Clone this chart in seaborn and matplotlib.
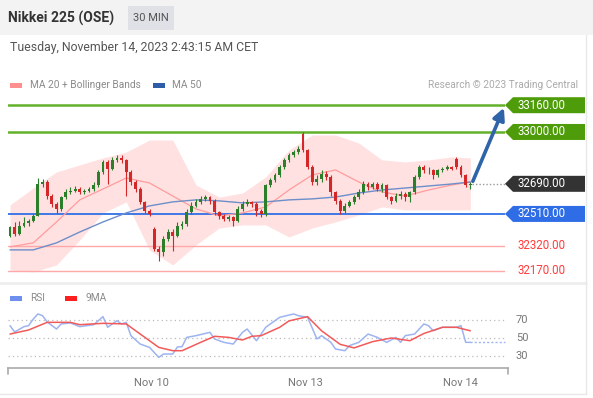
import matplotlib
matplotlib.use("Agg")
import matplotlib.pyplot as plt
from matplotlib.patches import Rectangle, Polygon
import seaborn as sns
import pandas as pd

# DATOS (velas de 30 min)

opens = [32380, 32430, 32390, 32440, 32455, 32470, 32500, 32690, 32700, 32620,
         32570, 32540, 32610, 32640, 32650, 32660, 32640, 32650, 32660, 32680,
         32760, 32820, 32780, 32830, 32845, 32830, 32760, 32700, 32660, 32580,
         32530, 32420, 32300, 32280, 32360, 32400, 32380, 32440, 32450, 32520,
         32560, 32580, 32600, 32610, 32590, 32520, 32500, 32480, 32490, 32470,
         32540, 32570, 32580, 32570, 32530, 32510, 32680, 32710, 32740, 32790,
         32830, 32860, 32880, 32985, 32890, 32790, 32700, 32720, 32750, 32730,
         32640, 32590, 32530, 32560, 32580, 32610, 32640, 32690, 32670, 32690,
         32660, 32680, 32610, 32590, 32620, 32630, 32610, 32640, 32730, 32790,
         32770, 32770, 32740, 32770, 32780, 32790, 32840, 32790, 32740, 32680]
closes = [32430, 32390, 32440, 32455, 32470, 32500, 32690, 32700, 32620, 32570,
          32540, 32610, 32640, 32650, 32660, 32640, 32650, 32660, 32680, 32760,
          32820, 32780, 32830, 32845, 32830, 32760, 32700, 32660, 32580, 32530,
          32510, 32300, 32280, 32360, 32400, 32380, 32440, 32450, 32520, 32560,
          32580, 32600, 32610, 32590, 32520, 32500, 32480, 32490, 32470, 32540,
          32570, 32580, 32570, 32530, 32510, 32680, 32710, 32740, 32790, 32830,
          32860, 32880, 32900, 32890, 32790, 32700, 32720, 32750, 32730, 32640,
          32590, 32530, 32560, 32580, 32610, 32640, 32690, 32670, 32690, 32660,
          32680, 32610, 32590, 32620, 32630, 32610, 32640, 32730, 32790, 32770,
          32770, 32740, 32770, 32780, 32790, 32780, 32790, 32740, 32680, 32690]
highs = [32440, 32460, 32470, 32490, 32480, 32510, 32725, 32720, 32710, 32630,
         32580, 32620, 32660, 32670, 32675, 32670, 32660, 32670, 32700, 32770,
         32830, 32830, 32850, 32865, 32860, 32840, 32770, 32710, 32670, 32590,
         32540, 32430, 32320, 32380, 32420, 32420, 32460, 32470, 32540, 32580,
         32600, 32615, 32625, 32620, 32600, 32530, 32510, 32505, 32500, 32555,
         32590, 32600, 32590, 32580, 32540, 32690, 32725, 32755, 32800, 32845,
         32875, 32895, 32915, 33000, 32900, 32800, 32740, 32770, 32765, 32740,
         32650, 32600, 32575, 32595, 32625, 32660, 32705, 32700, 32700, 32700,
         32695, 32690, 32620, 32635, 32645, 32640, 32650, 32745, 32805, 32800,
         32790, 32780, 32780, 32790, 32800, 32795, 32850, 32800, 32750, 32700]
lows = [32370, 32380, 32385, 32430, 32440, 32460, 32495, 32670, 32600, 32550,
        32515, 32530, 32600, 32630, 32640, 32630, 32630, 32640, 32650, 32670,
        32750, 32690, 32770, 32820, 32815, 32620, 32680, 32640, 32570, 32515,
        32495, 32290, 32230, 32260, 32350, 32290, 32370, 32420, 32440, 32510,
        32550, 32570, 32590, 32570, 32505, 32480, 32465, 32470, 32440, 32460,
        32530, 32560, 32550, 32500, 32490, 32500, 32670, 32700, 32730, 32780,
        32820, 32850, 32870, 32880, 32780, 32680, 32680, 32700, 32710, 32620,
        32570, 32510, 32515, 32550, 32570, 32600, 32630, 32655, 32660, 32650,
        32640, 32600, 32570, 32580, 32600, 32590, 32580, 32630, 32720, 32755,
        32750, 32720, 32730, 32760, 32770, 32770, 32780, 32730, 32670, 32660]

# MEDIAS Y BANDAS (muestreadas cada 5 velas)
ma_idx = [0, 5, 10, 15, 20, 25, 30, 35, 40, 45, 50, 55, 60, 65, 70, 75, 80, 85, 90, 95, 99]
ma20 = [32313, 32337, 32462, 32594, 32659, 32725, 32695, 32617, 32540, 32498, 32516,
        32552, 32653, 32743, 32773, 32701, 32641, 32617, 32653, 32683, 32701]
bb_upper = [32564, 32665, 32761, 32803, 32845, 32880, 32952, 32952, 32683, 32611, 32635,
            32731, 32892, 32982, 32982, 32934, 32833, 32821, 32833, 32851, 32845]
bb_lower = [32175, 32163, 32205, 32354, 32516, 32582, 32295, 32205, 32325, 32426, 32444,
            32444, 32372, 32426, 32462, 32504, 32552, 32534, 32534, 32534, 32534]
ma50 = [32295, 32295, 32337, 32402, 32462, 32516, 32558, 32582, 32594, 32588, 32576,
        32582, 32594, 32600, 32611, 32635, 32653, 32665, 32677, 32689, 32701]

# RSI Y SU MEDIA DE 9
rsi_idx = [0, 1, 3, 4, 5, 6, 7, 8, 10, 11, 13, 15, 18, 20, 21, 23, 24, 25, 26, 28, 30,
           32, 33, 35, 36, 37, 38, 40, 43, 44, 46, 48, 50, 51, 53, 55, 58, 61, 62, 64,
           66, 67, 69, 70, 72, 73, 75, 77, 79, 81, 83, 84, 85, 87, 89, 90, 91, 93, 96,
           97, 98, 99]
rsi = [63.7, 56.7, 62.6, 63.7, 71, 76.7, 74.8, 67.8, 60, 65.6, 66.7, 62.6, 64.8, 73.7,
       61.9, 69.2, 65.6, 67.4, 52.6, 43.3, 39.6, 28.5, 32.2, 32.2, 40, 40.4, 50.7, 52.6,
       56.3, 48.9, 45.2, 43.3, 56.3, 60, 47, 61.9, 73, 76.7, 74.8, 73, 48.9, 52.6, 45.2,
       37.8, 35.9, 41.5, 45.2, 54.4, 50.7, 45.2, 50.7, 45.2, 52.6, 54.4, 65.6, 63.7, 58.1,
       61.9, 61.9, 63.7, 45.2, 45.2]
ma9_idx = [0, 4, 8, 13, 15, 20, 25, 28, 32, 35, 37, 41, 44, 47, 50, 52, 54, 58, 60, 64,
           67, 71, 74, 78, 82, 86, 89, 93, 96, 99]
ma9 = [54.4, 58.9, 67.4, 67.4, 64.8, 66.3, 65.6, 54.4, 39.6, 35.9, 35.9, 45.2, 51.9,
       50.7, 47.8, 51.9, 52.6, 61.9, 69, 73.7, 58, 43, 39, 46, 50, 47, 55, 61.9, 61.9, 58]

# NIVELES
resistencias = [33160, 33000]
pivote = 32510
ultimo = 32690
soportes = [32320, 32170]
objetivo = 33160

tick_pos = [30.5, 63.5, 96.8]
tick_labels = ["Nov 10", "Nov 13", "Nov 14"]
rsi_levels = [70, 50, 30]

# ESTILO
sns.set_style("white")
plt.rcParams["font.family"] = ["Roboto", "DejaVu Sans"]

W, H = 593, 398
fig = plt.figure(figsize=(W / 100, H / 100), dpi=100)


def px_axes(l, t, r, b, **kw):
    return fig.add_axes([l / W, 1 - b / H, (r - l) / W, (b - t) / H], **kw)


X0, X1 = -0.43, 106.45
PY0, PY1 = 32115, 33221
P_TOP, P_BOT = 95, 280

ax = px_axes(8, P_TOP, 505, P_BOT)
ax.set_xlim(X0, X1)
ax.set_ylim(PY0, PY1)
ax.axis("off")

df_ma = pd.DataFrame({"i": ma_idx, "ma20": ma20, "up": bb_upper, "lo": bb_lower, "ma50": ma50})
ax.fill_between(df_ma["i"], df_ma["lo"], df_ma["up"], color="#ffdcdc", alpha=0.85, lw=0, zorder=1)

for y in resistencias:
    ax.axhline(y, color="#62b12b", lw=1.8, zorder=2)
ax.axhline(pivote, color="#3170e6", lw=1.3, zorder=2)
for y in soportes:
    ax.axhline(y, color="#ffa8a8", lw=1.0, zorder=2)

sns.lineplot(data=df_ma, x="i", y="ma20", ax=ax, color="#ff9c9c", lw=0.9, zorder=3)
sns.lineplot(data=df_ma, x="i", y="ma50", ax=ax, color="#6d8ec9", lw=1.0, zorder=3)

df = pd.DataFrame({"o": opens, "h": highs, "l": lows, "c": closes})
df["i"] = range(len(df))
colores = ["#2b7f2b" if c >= o else "#d42828" for o, c in zip(df["o"], df["c"])]
ax.vlines(df["i"], df["l"], df["h"], colors=colores, lw=0.8, zorder=4)
cuerpo = (df["c"] - df["o"]).abs().clip(lower=4)
ax.bar(df["i"], cuerpo, bottom=df[["o", "c"]].min(axis=1), width=0.62, color=colores, lw=0, zorder=5)

ax.set_xlabel("")
ax.set_ylabel("")
n = len(df) - 1
ax.plot([n + 0.4, X1], [ultimo, ultimo], ls=(0, (1, 1.5)), color="#999999", lw=1, zorder=3, clip_on=False)
ax.annotate("", xy=(X1, objetivo), xytext=(n + 0.3, ultimo),
            arrowprops=dict(arrowstyle="-|>,head_length=0.7,head_width=0.35", color="#2f64a8", lw=2.6),
            zorder=6, annotation_clip=False)

# PANEL RSI
R_TOP, R_BOT = 300, 368
RY0, RY1 = 16.7, 92.2
axr = px_axes(8, R_TOP, 508, R_BOT)
axr.set_xlim(X0, (508 - 10) / 4.65)
axr.set_ylim(RY0, RY1)
for v in rsi_levels:
    axr.plot([X0, X1], [v, v], ls=(0, (1, 2.5)), color="#bbbbbb", lw=0.9)
df_rsi = pd.DataFrame({"i": rsi_idx, "rsi": rsi})
df_ma9 = pd.DataFrame({"i": ma9_idx, "ma9": ma9})
sns.lineplot(data=df_rsi, x="i", y="rsi", ax=axr, color="#9db4f0", lw=1.1)
sns.lineplot(data=df_ma9, x="i", y="ma9", ax=axr, color="#f25a5a", lw=1.1)
axr.plot([rsi_idx[-1], X1], [rsi[-1], rsi[-1]], ls=(0, (1.5, 1.5)), color="#9db4f0", lw=1)
for s in ["top", "left", "right"]:
    axr.spines[s].set_visible(False)
axr.spines["bottom"].set_color("#aaaaaa")
axr.spines["bottom"].set_linewidth(1.2)
axr.set_yticks([])
axr.set_xticks(tick_pos)
axr.set_xticklabels(tick_labels)
axr.tick_params(axis="x", length=0, pad=7, labelsize=8, labelcolor="#777777")
axr.set_xlabel("")
axr.set_ylabel("")

# CAPA DE TEXTOS EN PIXELES
ov = fig.add_axes([0, 0, 1, 1])
ov.set_xlim(0, W)
ov.set_ylim(H, 0)
ov.axis("off")
ov.patch.set_alpha(0)


def py(p):
    return P_TOP + (PY1 - p) / (PY1 - PY0) * (P_BOT - P_TOP)


def ry(v):
    return R_TOP + (RY1 - v) / (RY1 - RY0) * (R_BOT - R_TOP)


ov.add_patch(Rectangle((0, 0), W, 35, color="#f3f3f3", lw=0))
ov.text(8, 18, "Nikkei 225 (OSE)", fontsize=10, fontweight="bold", color="#333333", va="center")
ov.add_patch(Rectangle((128, 6), 46, 24, color="#dfe1e6", lw=0))
ov.text(151, 18, "30 MIN", fontsize=8, color="#555555", va="center", ha="center")
ov.text(10, 47, "Tuesday, November 14, 2023 2:43:15 AM CET", fontsize=8.8, color="#555555", va="center")

ov.add_patch(Rectangle((10, 82.5), 12, 5, color="#ff8f8f", lw=0))
ov.text(30, 85, "MA 20 + Bollinger Bands", fontsize=7.3, color="#8a8a8a", va="center")
ov.add_patch(Rectangle((153, 82.5), 12, 5, color="#2f5ea8", lw=0))
ov.text(172, 85, "MA 50", fontsize=7.3, color="#8a8a8a", va="center")
ov.text(578, 85, "Research \u00a9 2023 Trading Central", fontsize=7.3, color="#aaaaaa", va="center", ha="right")

ov.add_patch(Rectangle((10, 295.5), 12, 5, color="#6f8ff0", lw=0))
ov.text(30, 298, "RSI", fontsize=7.3, color="#8a8a8a", va="center")
ov.add_patch(Rectangle((65, 295.5), 12, 5, color="#ff1f1f", lw=0))
ov.text(85, 298, "9MA", fontsize=7.3, color="#8a8a8a", va="center")


def etiqueta(p, fondo):
    y = py(p)
    ov.add_patch(Polygon([(505, y), (513, y - 8), (585, y - 8), (585, y + 8), (513, y + 8)],
                         closed=True, color=fondo, lw=0))
    ov.text(518, y, f"{p:.2f}", fontsize=8.3, color="white", va="center")


for p in resistencias:
    etiqueta(p, "#4f9c0b")
etiqueta(ultimo, "#333333")
etiqueta(pivote, "#2f6de6")
for p in soportes:
    ov.text(518, py(p), f"{p:.2f}", fontsize=8.3, color="#ff3b3b", va="center")

for v in rsi_levels:
    ov.text(516, ry(v), str(v), fontsize=8, color="#777777", va="center")

ov.plot([8, 8], [368, 374], color="#aaaaaa", lw=1.2)
ov.plot([508, 508], [368, 374], color="#aaaaaa", lw=1.2)
ov.plot([0, 586], [282.5, 282.5], color="#eeeeee", lw=2)
ov.plot([586, 586], [35, 394], color="#e8e8e8", lw=1)
ov.plot([0, 586], [394, 394], color="#e8e8e8", lw=1)

fig.savefig("out.png", dpi=100)
